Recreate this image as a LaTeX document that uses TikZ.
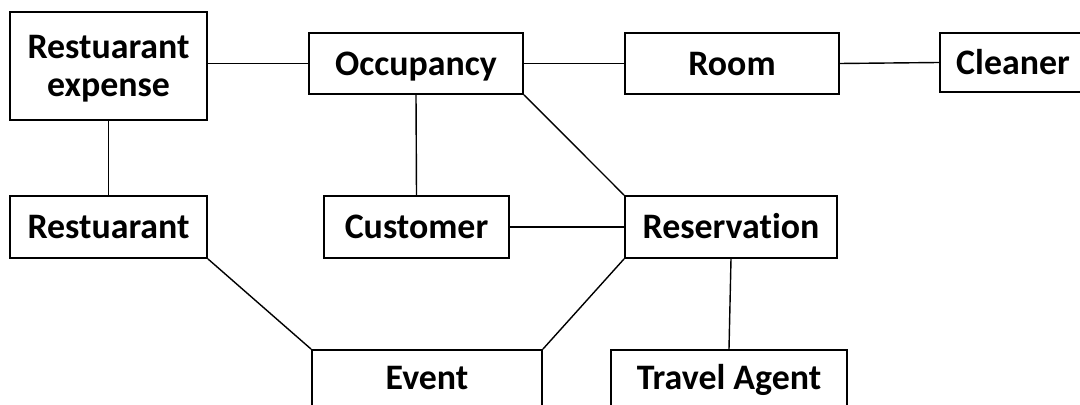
\documentclass[tikz,border=0pt]{standalone}
\usepackage{fontspec}
\setmainfont[Ligatures=NoCommon]{Carlito}
\usepackage{tikz}
\usetikzlibrary{positioning}

\tikzset{
    entity/.style={draw,line width=1.3pt,inner sep=2pt,text height=16.4pt,text depth=0pt,font=\fontsize{25.5}{27.5}\selectfont\bfseries},
    link/.style={line width=1pt}
}

\begin{document}
\begin{tikzpicture}[x=0.025cm,y=-0.025cm]
    \useasboundingbox (0,0) rectangle (1080,405);
    % top row
    \node[entity,align=center,text height=,minimum width=4.925cm,minimum height=2.7cm] (rexp) at (108.5,66) {Restuarant\\expense};
    \node[entity,minimum width=5.35cm,minimum height=1.525cm] (occ) at (416,63.5) {Occupancy};
    \node[entity,minimum width=5.35cm,minimum height=1.525cm] (room) at (732,63.5) {Room};
    \node[entity,minimum width=3.65cm,minimum height=1.475cm] (clean) at (1013,62.5) {Cleaner};
    % middle row
    \node[entity,minimum width=4.925cm,minimum height=1.55cm] (rest) at (108.5,227) {Restuarant};
    \node[entity,minimum width=4.625cm,minimum height=1.55cm] (cust) at (416.5,227) {Customer};
    \node[entity,minimum width=5.3cm,minimum height=1.55cm] (res) at (731,227) {Reservation};
    % bottom row
    \node[entity,minimum width=5.75cm,minimum height=1.4cm] (event) at (427,378) {Event};
    \node[entity,minimum width=5.9cm,minimum height=1.4cm] (agent) at (729,378) {Travel Agent};

    \draw[link] (rexp.east |- occ.west) -- (occ.west);
    \draw[link] (occ.east) -- (room.west);
    \draw[link] (room.east) -- (clean.west);
    \draw[link] (rexp.south) -- (rest.north);
    \draw[link] (occ.south) -- (cust.north);
    \draw[link] (occ.south east) -- (res.north west);
    \draw[link] (cust.east) -- (res.west);
    \draw[link] (rest.south east) -- (event.north west);
    \draw[link] (res.south west) -- (event.north east);
    \draw[link] (res.south) -- (agent.north);
\end{tikzpicture}
\end{document}
